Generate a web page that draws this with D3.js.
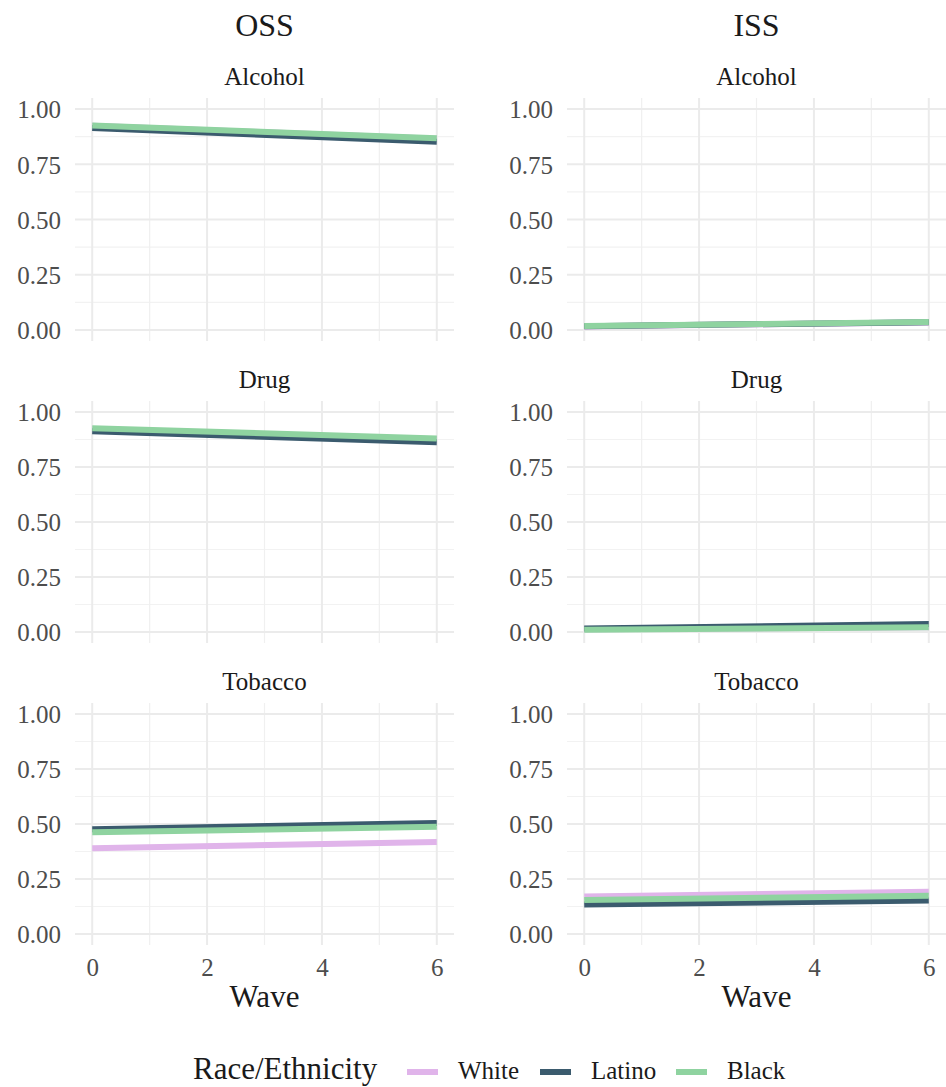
<!DOCTYPE html>
<html><head><meta charset="utf-8">
<script src="https://cdn.jsdelivr.net/npm/d3@7"></script>
<style>body{margin:0;background:#fff;} text{font-family:"Liberation Serif","Times New Roman",serif;}</style>
</head><body>
<svg id="chart" width="946" height="1087"></svg>
<script>
// ---- data ----
const columns = ["OSS", "ISS"];
const substances = ["Alcohol", "Drug", "Tobacco"];
const groups = ["White", "Latino", "Black"];
const groupColors = ["#e0b4ea", "#3b5b6e", "#8fd3a0"];
const waves = [0, 6];
const xTicks = [0, 2, 4, 6];
const yTicks = [0, 0.25, 0.5, 0.75, 1];
const yTickLabels = ["0.00", "0.25", "0.50", "0.75", "1.00"];
// values at wave 0 and wave 6, per group (White, Latino, Black)
const ossAlcohol = [[0.924, 0.866], [0.914, 0.852], [0.925, 0.868]];
const ossDrug    = [[0.922, 0.876], [0.913, 0.862], [0.926, 0.88]];
const ossTobacco = [[0.39, 0.418], [0.476, 0.505], [0.462, 0.488]];
const issAlcohol = [[0.016, 0.034], [0.017, 0.035], [0.018, 0.036]];
const issDrug    = [[0.012, 0.022], [0.016, 0.036], [0.01, 0.022]];
const issTobacco = [[0.17, 0.192], [0.134, 0.152], [0.155, 0.174]];
const panelData = [[ossAlcohol, issAlcohol], [ossDrug, issDrug], [ossTobacco, issTobacco]];

// ---- layout ----
const svg = d3.select("#chart");
const colX = [[75, 454], [567, 946]];
const rowY = [[98, 341], [401, 643], [703, 945]];

const xDomain = [-0.3, 6.3];
const yDomain = [-0.05, 1.05];

columns.forEach((c, ci) => {
  const cx = (colX[ci][0] + colX[ci][1]) / 2;
  svg.append("text").attr("x", cx).attr("y", 36).attr("text-anchor", "middle")
    .attr("font-size", 32).attr("fill", "#1a1a1a").text(c);
});

substances.forEach((s, ri) => {
  columns.forEach((c, ci) => {
    const x = d3.scaleLinear().domain(xDomain).range(colX[ci]);
    const y = d3.scaleLinear().domain(yDomain).range([rowY[ri][1], rowY[ri][0]]);
    const g = svg.append("g");
    const cx = (colX[ci][0] + colX[ci][1]) / 2;
    g.append("text").attr("x", cx).attr("y", rowY[ri][0] - 13).attr("text-anchor", "middle")
      .attr("font-size", 25).attr("fill", "#1a1a1a").text(s);
    // minor grid
    const yMinor = [0.125, 0.375, 0.625, 0.875];
    g.selectAll(".ymin").data(yMinor).enter().append("line")
      .attr("x1", colX[ci][0]).attr("x2", colX[ci][1])
      .attr("y1", d => y(d)).attr("y2", d => y(d))
      .attr("stroke", "#f2f2f2").attr("stroke-width", 1.2);
    const xMinor = [1, 3, 5];
    g.selectAll(".xmin").data(xMinor).enter().append("line")
      .attr("y1", rowY[ri][0]).attr("y2", rowY[ri][1])
      .attr("x1", d => x(d)).attr("x2", d => x(d))
      .attr("stroke", "#f0f0f0").attr("stroke-width", 1.2);
    // major grid
    g.selectAll(".ymaj").data(yTicks).enter().append("line")
      .attr("x1", colX[ci][0]).attr("x2", colX[ci][1])
      .attr("y1", d => y(d)).attr("y2", d => y(d))
      .attr("stroke", "#ebebeb").attr("stroke-width", 2);
    g.selectAll(".xmaj").data(xTicks).enter().append("line")
      .attr("y1", rowY[ri][0]).attr("y2", rowY[ri][1])
      .attr("x1", d => x(d)).attr("x2", d => x(d))
      .attr("stroke", "#ebebeb").attr("stroke-width", 2);
    // y axis labels
    const yAxis = d3.axisLeft(y).tickValues(yTicks).tickFormat((d, i) => yTickLabels[i]).tickSize(0).tickPadding(14);
    const ya = g.append("g").attr("transform", `translate(${colX[ci][0]},0)`).call(yAxis);
    ya.select(".domain").remove();
    ya.selectAll("text").attr("font-size", 25).attr("fill", "#4d4d4d")
      .attr("font-family", "Liberation Serif").attr("dy", "0.35em");
    // x axis labels on bottom row
    if (ri === substances.length - 1) {
      const xAxis = d3.axisBottom(x).tickValues(xTicks).tickFormat(d3.format("d")).tickSize(0).tickPadding(13);
      const xa = g.append("g").attr("transform", `translate(0,${rowY[ri][1]})`).call(xAxis);
      xa.select(".domain").remove();
      xa.selectAll("text").attr("font-size", 25).attr("fill", "#4d4d4d").attr("font-family", "Liberation Serif");
      g.append("text").attr("x", x(3)).attr("y", 1007).attr("text-anchor", "middle")
        .attr("font-size", 31).attr("fill", "#1a1a1a").text("Wave");
    }
    // lines
    const line = d3.line().x((d, i) => x(waves[i])).y(d => y(d));
    panelData[ri][ci].forEach((vals, gi) => {
      g.append("path").datum(vals).attr("d", line)
        .attr("fill", "none").attr("stroke", groupColors[gi]).attr("stroke-width", 6);
    });
  });
});

// ---- legend ----
const lg = svg.append("g");
lg.append("text").attr("x", 193).attr("y", 1079).attr("font-size", 31).attr("fill", "#1a1a1a").text("Race/Ethnicity");
const legX = [407, 540, 676];
groups.forEach((gname, i) => {
  lg.append("line").attr("x1", legX[i]).attr("x2", legX[i] + 31).attr("y1", 1072).attr("y2", 1072)
    .attr("stroke", groupColors[i]).attr("stroke-width", 6);
  lg.append("text").attr("x", legX[i] + 51).attr("y", 1079).attr("font-size", 25).attr("fill", "#1a1a1a").text(gname);
});
</script>
</body></html>
